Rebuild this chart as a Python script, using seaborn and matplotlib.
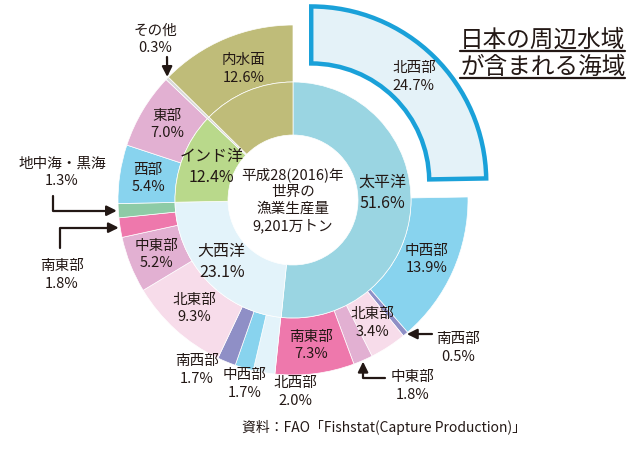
import numpy as np
import seaborn as sns
from matplotlib import pyplot as plt

# inner ring: oceans (clockwise from 12 o'clock)
ocean_names = ['太平洋', '大西洋', 'インド洋', 'その他', '内水面']
ocean_values = [51.6, 23.1, 12.4, 0.3, 12.6]
ocean_colors = ['#9ad5e2', '#e3f3fa', '#b9d98b', '#d9d9d9', '#bfbc79']

# outer ring: sub-areas (same order)
area_names = ['北西部', '中西部', '南西部', '北東部', '中東部', '南東部',
              '北西部', '中西部', '南西部', '北東部', '中東部', '南東部', '地中海・黒海',
              '西部', '東部', 'その他', '内水面']
area_values = [24.7, 13.9, 0.5, 3.4, 1.8, 7.3,
               2.0, 1.7, 1.7, 9.3, 5.2, 1.8, 1.3,
               5.4, 7.0, 0.3, 12.6]
area_colors = ['#e4f2f8', '#88d3ee', '#8f8fc6', '#f7dcea', '#e2b0d2', '#ee78ac',
               '#e3f3fa', '#88d3ee', '#8f8fc6', '#f7dcea', '#e2b0d2', '#ee78ac', '#8dcba6',
               '#88d3ee', '#e2b0d2', '#d9d9d9', '#bfbc79']

# labels drawn outside the ring
outside = [2, 4, 6, 7, 8, 11, 12, 15]

center_text = '平成28(2016)年\n世界の\n漁業生産量\n9,201万トン'
title_lines = ['日本の周辺水域', 'が含まれる海域']
source = '資料：FAO「Fishstat(Capture Production)」'

sns.set_theme(style='white')
plt.rcParams['font.family'] = ['Noto Sans CJK JP', 'DejaVu Sans']
txt = '#231815'

fig = plt.figure(figsize=(6.37, 4.5), dpi=100)
ax = fig.add_axes([0, 0, 1, 1])

cx, cy = 293, 250
R_out, R_mid, R_in = 175, 118, 65
explode = [26] + [0] * (len(area_values) - 1)  # pull out the NW Pacific

outer, _ = ax.pie(area_values, radius=R_out, center=(cx, cy), colors=area_colors,
                  startangle=90, counterclock=False, explode=explode,
                  wedgeprops=dict(width=R_out - R_mid, edgecolor='white', linewidth=0.5))
inner, _ = ax.pie(ocean_values, radius=R_mid, center=(cx, cy), colors=ocean_colors,
                  startangle=90, counterclock=False,
                  wedgeprops=dict(width=R_mid - R_in, edgecolor='white', linewidth=0.5))

ax.set_xlim(0, 637)
ax.set_ylim(0, 450)
ax.set_aspect('equal')
ax.axis('off')

# highlighted north-west Pacific
outer[0].set_edgecolor('#1aa1d9')
outer[0].set_linewidth(3.2)
outer[0].set_zorder(5)


def wedge_point(w, r_frac=0.5):
    mid = np.deg2rad((w.theta1 + w.theta2) / 2)
    r = w.r - w.width * (1 - r_frac)
    return w.center[0] + r * np.cos(mid), w.center[1] + r * np.sin(mid)


fs = 10.5
for i, w in enumerate(outer):
    if i in outside or area_names[i] == '内水面':
        continue
    x, y = wedge_point(w)
    ax.text(x, y, f'{area_names[i]}\n{area_values[i]}%', ha='center', va='center',
            fontsize=fs, color=txt, linespacing=1.3, zorder=6)

# 内水面 label in the outer part of its wedge
x, y = wedge_point(outer[16])
ax.text(x + 7, y - 4, f'内水面\n{area_values[16]}%', ha='center', va='center',
        fontsize=fs, color=txt, linespacing=1.3)

inner_shift = [(-2, 12), (-4, 0), (4, 0)]
for i in range(3):
    x, y = wedge_point(inner[i])
    dx, dy = inner_shift[i]
    ax.text(x + dx, y + dy, f'{ocean_names[i]}\n{ocean_values[i]}%', ha='center',
            va='center', fontsize=11.5, color=txt, linespacing=1.3)

# outside labels: index -> (text x, text y, arrow start, connection)
outside_pos = {
    2: (458, 102, (432, 116), 'arc3'),
    4: (413, 64, (385, 72), 'angle,angleA=0,angleB=90,rad=0'),
    6: (295, 58, None, None),
    7: (245, 66, None, None),
    8: (197, 80, None, None),
    11: (62, 175, (60, 202), 'angle,angleA=90,angleB=0,rad=0'),
    12: (62, 278, (53, 254), 'angle,angleA=90,angleB=0,rad=0'),
    15: (155, 411, (167, 393), 'arc3'),
}
for i, (tx, ty, start, conn) in outside_pos.items():
    ax.text(tx, ty, f'{area_names[i]}\n{area_values[i]}%', ha='center', va='center',
            fontsize=fs, color=txt, linespacing=1.3)
    if start is not None:
        tip = wedge_point(outer[i], 1.0)
        ax.annotate('', xy=tip, xytext=start,
                    arrowprops=dict(arrowstyle='-|>,head_length=0.5,head_width=0.25',
                                    connectionstyle=conn, color=txt, lw=1.6,
                                    shrinkA=0, shrinkB=1))

ax.text(cx, cy, center_text, ha='center', va='center', fontsize=10.5,
        color=txt, linespacing=1.25)

# title with underline
fig.canvas.draw()
renderer = fig.canvas.get_renderer()
for k, line in enumerate(title_lines):
    t = ax.text(460, 410 - k * 27, line, ha='left', va='center', fontsize=17, color=txt)
    bb = t.get_window_extent(renderer)
    (x0, y0), (x1, _) = ax.transData.inverted().transform([(bb.x0, bb.y0), (bb.x1, bb.y0)])
    ax.plot([x0, x1], [y0 + 1, y0 + 1], color=txt, lw=1.6)

ax.text(384, 23, source, ha='center', va='center', fontsize=10, color=txt)

fig.savefig('out.png', dpi=100)
